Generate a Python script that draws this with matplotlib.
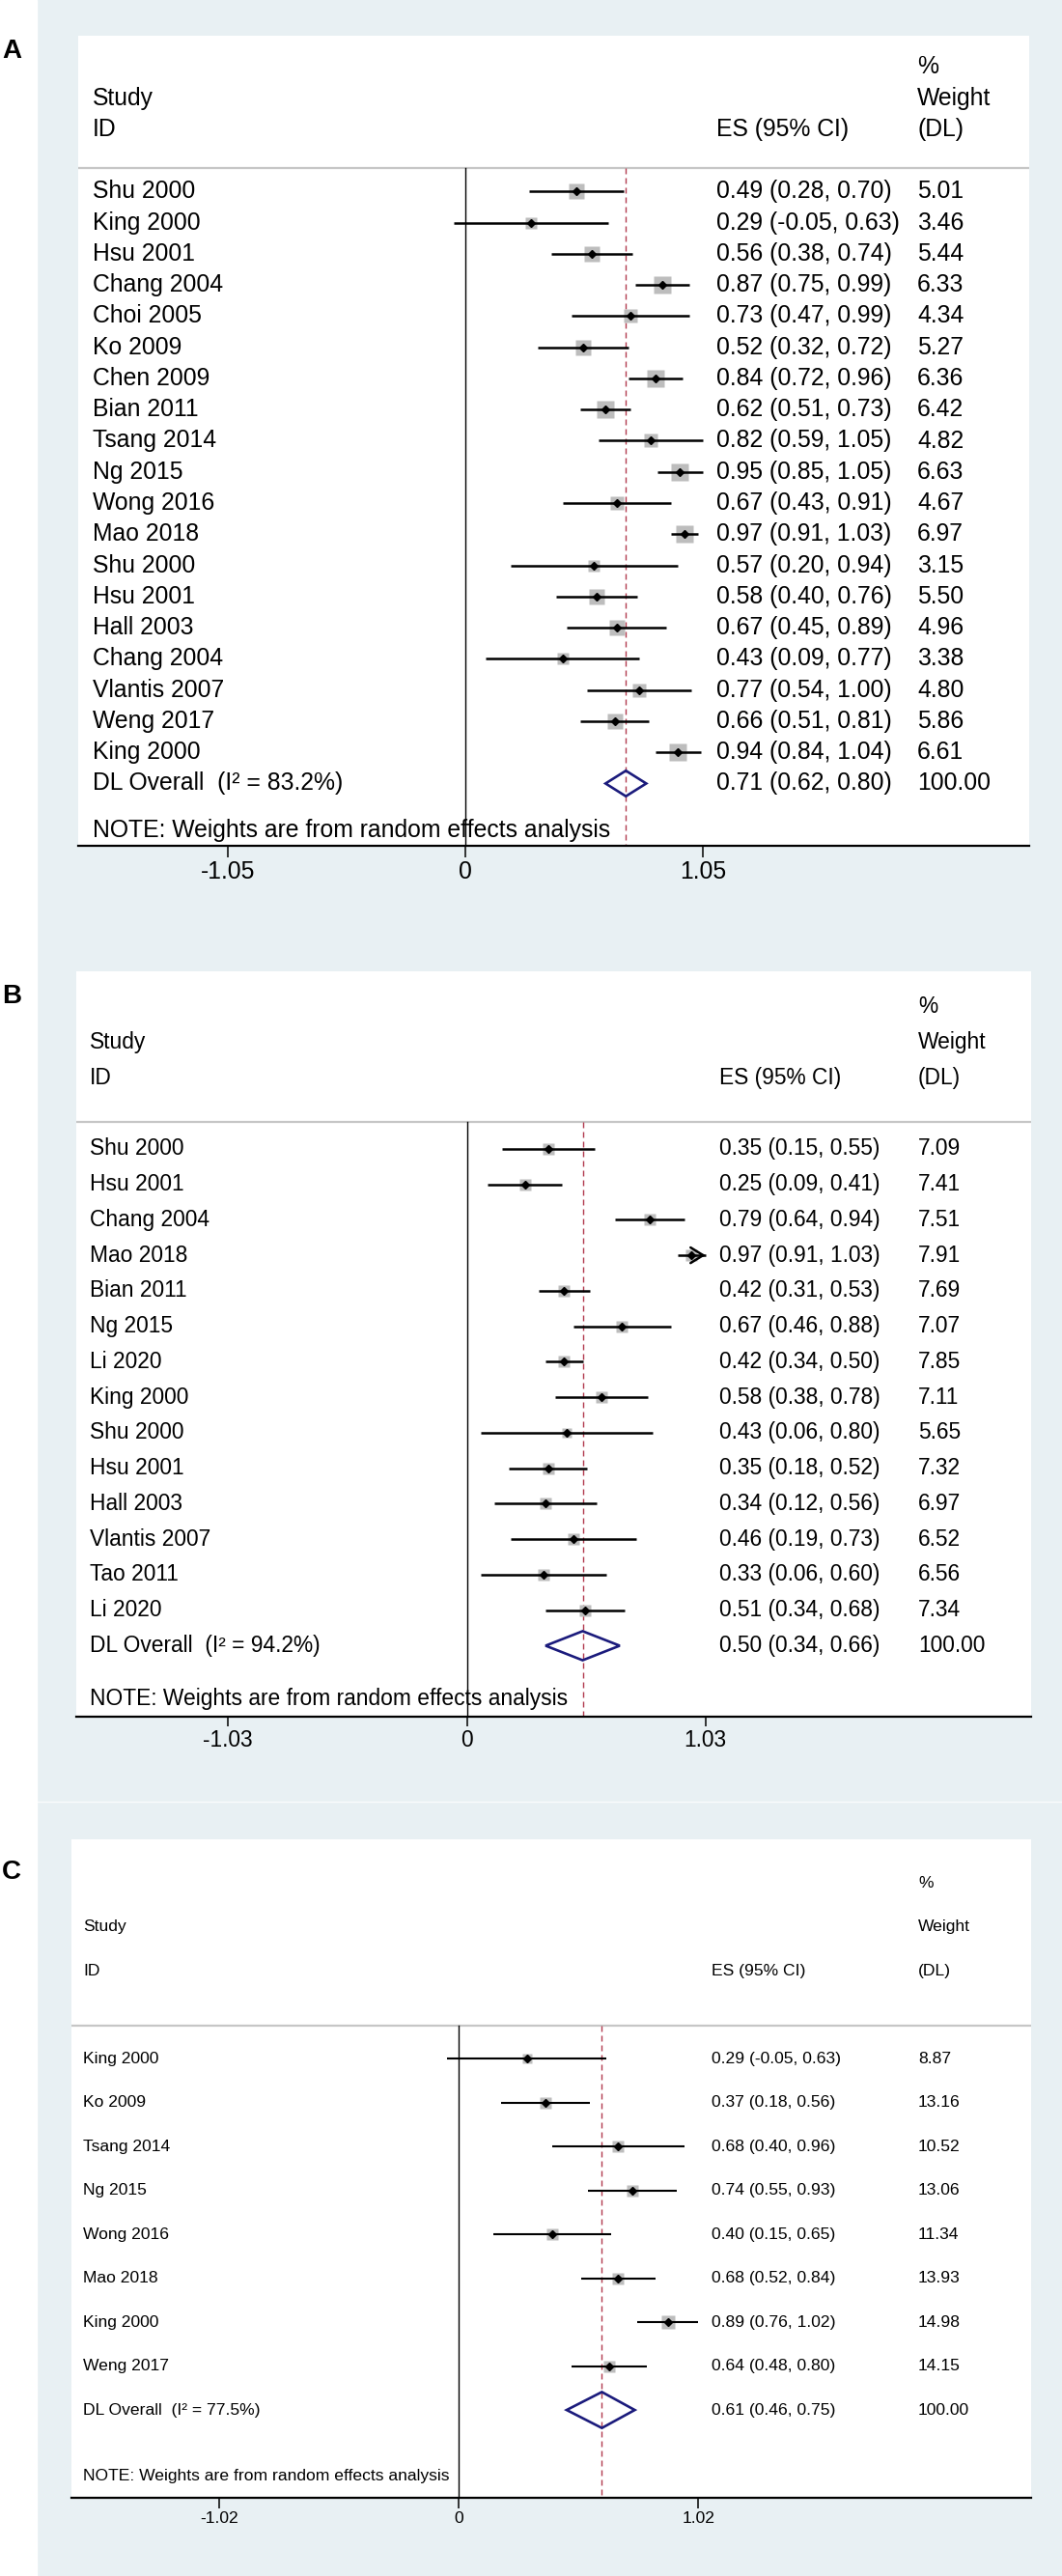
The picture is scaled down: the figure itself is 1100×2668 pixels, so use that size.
import numpy as np
import matplotlib
matplotlib.use("Agg")
import matplotlib.pyplot as plt
from matplotlib.patches import Polygon, Rectangle
from matplotlib.lines import Line2D

plt.rcParams['font.family'] = ['Liberation Sans', 'DejaVu Sans']

# Panel A
a_studies = ['Shu 2000', 'King 2000', 'Hsu 2001', 'Chang 2004', 'Choi 2005', 'Ko 2009',
             'Chen 2009', 'Bian 2011', 'Tsang 2014', 'Ng 2015', 'Wong 2016', 'Mao 2018',
             'Shu 2000', 'Hsu 2001', 'Hall 2003', 'Chang 2004', 'Vlantis 2007', 'Weng 2017',
             'King 2000']
a_es = [0.49, 0.29, 0.56, 0.87, 0.73, 0.52, 0.84, 0.62, 0.82, 0.95, 0.67, 0.97,
        0.57, 0.58, 0.67, 0.43, 0.77, 0.66, 0.94]
a_lo = [0.28, -0.05, 0.38, 0.75, 0.47, 0.32, 0.72, 0.51, 0.59, 0.85, 0.43, 0.91,
        0.20, 0.40, 0.45, 0.09, 0.54, 0.51, 0.84]
a_hi = [0.70, 0.63, 0.74, 0.99, 0.99, 0.72, 0.96, 0.73, 1.05, 1.05, 0.91, 1.03,
        0.94, 0.76, 0.89, 0.77, 1.00, 0.81, 1.04]
a_weight = [5.01, 3.46, 5.44, 6.33, 4.34, 5.27, 6.36, 6.42, 4.82, 6.63, 4.67, 6.97,
            3.15, 5.50, 4.96, 3.38, 4.80, 5.86, 6.61]
a_overall = [0.71, 0.62, 0.80]
a_i2 = 83.2
a_ticks = [-1.05, 0, 1.05]
a_arrows = []

# Panel B
b_studies = ['Shu 2000', 'Hsu 2001', 'Chang 2004', 'Mao 2018', 'Bian 2011', 'Ng 2015',
             'Li 2020', 'King 2000', 'Shu 2000', 'Hsu 2001', 'Hall 2003', 'Vlantis 2007',
             'Tao 2011', 'Li 2020']
b_es = [0.35, 0.25, 0.79, 0.97, 0.42, 0.67, 0.42, 0.58, 0.43, 0.35, 0.34, 0.46, 0.33, 0.51]
b_lo = [0.15, 0.09, 0.64, 0.91, 0.31, 0.46, 0.34, 0.38, 0.06, 0.18, 0.12, 0.19, 0.06, 0.34]
b_hi = [0.55, 0.41, 0.94, 1.03, 0.53, 0.88, 0.50, 0.78, 0.80, 0.52, 0.56, 0.73, 0.60, 0.68]
b_weight = [7.09, 7.41, 7.51, 7.91, 7.69, 7.07, 7.85, 7.11, 5.65, 7.32, 6.97, 6.52, 6.56, 7.34]
b_overall = [0.50, 0.34, 0.66]
b_i2 = 94.2
b_ticks = [-1.03, 0, 1.03]
b_arrows = [3]  # Mao 2018 is drawn with an arrow head

# Panel C
c_studies = ['King 2000', 'Ko 2009', 'Tsang 2014', 'Ng 2015', 'Wong 2016', 'Mao 2018',
             'King 2000', 'Weng 2017']
c_es = [0.29, 0.37, 0.68, 0.74, 0.40, 0.68, 0.89, 0.64]
c_lo = [-0.05, 0.18, 0.40, 0.55, 0.15, 0.52, 0.76, 0.48]
c_hi = [0.63, 0.56, 0.96, 0.93, 0.65, 0.84, 1.02, 0.80]
c_weight = [8.87, 13.16, 10.52, 13.06, 11.34, 13.93, 14.98, 14.15]
c_overall = [0.61, 0.46, 0.75]
c_i2 = 77.5
c_ticks = [-1.02, 0, 1.02]
c_arrows = []

W, H = 1100, 2668
BG = '#e8f0f3'
BOX_GREY = '#bdbdbd'
NAVY = '#1b1b7c'
DASH_RED = '#b23a4e'


def px_axes(fig, box):
    left, top, right, bottom = box
    return fig.add_axes([left / W, 1 - bottom / H, (right - left) / W, (bottom - top) / H])


def draw_panel(fig, box, zero_px, unit_px, cols, fs, box_k, lw, ticklen,
               studies, es, lo, hi, weight, overall, i2, ticks, arrows):
    left, top, right, bottom = box
    ax = px_axes(fig, box)
    n = len(studies)
    ax.set_xlim((left - zero_px) / unit_px, (right - zero_px) / unit_px)
    ax.set_ylim(n + 3, -4)
    ax.set_facecolor('white')
    for s in ['top', 'left', 'right']:
        ax.spines[s].set_visible(False)
    ax.spines['bottom'].set_linewidth(1.6)
    ax.set_yticks([])
    ax.set_xticks(ticks)
    ax.set_xticklabels(['%g' % t for t in ticks])
    ax.tick_params(axis='x', length=ticklen, width=1.1, pad=2, labelsize=fs)

    # text columns, from pixel positions to data x
    x_id, x_es, x_wt = [(p - zero_px) / unit_px for p in cols]

    hdr = 0.25
    ax.axhline(hdr, color='#c6c6c6', lw=1.6)
    ax.plot([0, 0], [hdr, n + 3], color='black', lw=1, zorder=2)
    ax.plot([overall[0], overall[0]], [hdr, n + 3], color=DASH_RED, lw=1,
            dashes=(4.3, 2.9), zorder=2)

    # header
    ax.text(x_wt, -3, '%', fontsize=fs, va='center')
    ax.text(x_id, -2, 'Study', fontsize=fs, va='center')
    ax.text(x_wt, -2, 'Weight', fontsize=fs, va='center')
    ax.text(x_id, -1, 'ID', fontsize=fs, va='center')
    ax.text(x_es, -1, 'ES (95% CI)', fontsize=fs, va='center')
    ax.text(x_wt, -1, '(DL)', fontsize=fs, va='center')

    for i in range(n):
        r = i + 1
        ax.plot(es[i], r, marker='s', ms=box_k * np.sqrt(weight[i]) * 0.72,
                color=BOX_GREY, mec='none', zorder=3)
        ax.plot([lo[i], hi[i]], [r, r], color='black', lw=lw, solid_capstyle='butt', zorder=4)
        if i in arrows:
            ax.annotate('', xy=(hi[i], r), xytext=(hi[i] - 0.02, r),
                        arrowprops=dict(arrowstyle='->,head_length=0.47,head_width=0.29',
                                        lw=lw, color='black', mutation_scale=20,
                                        shrinkA=0, shrinkB=0), zorder=5)
        ax.plot(es[i], r, marker='D', ms=3.6, color='black', zorder=5)
        ax.text(x_id, r, studies[i], fontsize=fs, va='center')
        ax.text(x_es, r, '%.2f (%.2f, %.2f)' % (es[i], lo[i], hi[i]), fontsize=fs, va='center')
        ax.text(x_wt, r, '%.2f' % weight[i], fontsize=fs, va='center')

    # overall diamond
    ro = n + 1
    e0, l0, h0 = overall
    dia = Polygon([(l0, ro), (e0, ro - 0.41), (h0, ro), (e0, ro + 0.41)], closed=True,
                  fill=False, edgecolor=NAVY, lw=1.9, zorder=5)
    ax.add_patch(dia)
    ax.text(x_id, ro, 'DL Overall  (I\u00b2 = %.1f%%)' % i2, fontsize=fs, va='center')
    ax.text(x_es, ro, '%.2f (%.2f, %.2f)' % (e0, l0, h0), fontsize=fs, va='center')
    ax.text(x_wt, ro, '100.00', fontsize=fs, va='center')

    ax.text(x_id, n + 2.5, 'NOTE: Weights are from random effects analysis',
            fontsize=fs, va='center')
    return ax


fig = plt.figure(figsize=(W / 100, H / 100), dpi=100, facecolor=BG)

# white strip on the left with the panel letters
fig.patches.append(Rectangle((0, 0), 38 / W, 1, transform=fig.transFigure,
                             color='white', zorder=0))
fig.add_artist(Line2D([38 / W, 1], [1 - 1866 / H, 1 - 1866 / H], color='white', lw=1, alpha=0.8))

draw_panel(fig, (81, 37, 1066, 876), 482, 234.2, (96, 742, 950), 17.8, 6.8, 1.8, 8.6,
           a_studies, a_es, a_lo, a_hi, a_weight, a_overall, a_i2, a_ticks, a_arrows)
draw_panel(fig, (79, 1006, 1068, 1778), 483.5, 240.0, (93, 745, 951), 16.4, 4.4, 1.8, 7.2,
           b_studies, b_es, b_lo, b_hi, b_weight, b_overall, b_i2, b_ticks, b_arrows)
draw_panel(fig, (74, 1905, 1068, 2587), 475, 243.3, (86, 737, 951), 12.6, 3.45, 1.5, 8.0,
           c_studies, c_es, c_lo, c_hi, c_weight, c_overall, c_i2, c_ticks, c_arrows)

for label, y in [('A', 53), ('B', 1032), ('C', 1939)]:
    fig.text(2 / W, 1 - y / H, label, fontsize=20, fontweight='bold', va='center', ha='left')

fig.savefig('out.png', dpi=100, facecolor=BG)
